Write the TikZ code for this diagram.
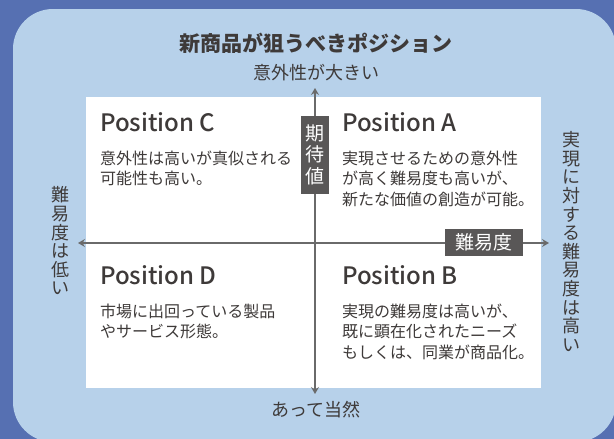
\documentclass[tikz,border=0pt]{standalone}
\usepackage{fontspec}
\setmainfont{Noto Sans CJK JP}
\newfontfamily\posfont{Noto Sans CJK JP Medium}
\usetikzlibrary{arrows.meta}
\definecolor{bgdark}{HTML}{5670B2}
\definecolor{bglight}{HTML}{B7D1EA}
\definecolor{txt}{HTML}{3E3A39}
\definecolor{tagbox}{HTML}{595757}
\definecolor{axis}{HTML}{6A6A6A}
\tikzset{
  lbl/.style={inner sep=0pt, text=txt},
  body/.style={lbl, anchor=west, font=\fontsize{16}{20}\selectfont},
  postitle/.style={lbl, anchor=base west, font=\fontsize{24}{28}\posfont},
  sidelbl/.style={lbl, align=center, font=\fontsize{18}{18.6}\selectfont},
  tag/.style={fill=tagbox, text=white, inner sep=0pt, font=\fontsize{19}{21}\selectfont},
  axisline/.style={draw=axis, line width=2.4pt, -{Stealth[length=7pt,width=8pt,inset=2.5pt]}},
}
\begin{document}
\begin{tikzpicture}[x=1pt,y=-1pt]
\useasboundingbox (0,0) rectangle (614,439);
\begin{scope}
\clip (0,0) rectangle (614,439);
\fill[bgdark] (0,0) rectangle (614,439);
\fill[bglight, rounded corners=40pt] (13,9) rectangle (616,442);
\end{scope}
\fill[white] (86,97) rectangle (541,388);
% title and axis labels
\node[lbl, font=\fontsize{21}{24}\selectfont\bfseries] (title) at (316,43) {新商品が狙うべきポジション};
\node[lbl, font=\fontsize{18}{20}\selectfont] (top) at (316,73) {意外性が大きい};
\node[lbl, font=\fontsize{18}{20}\selectfont] (bottom) at (316,410) {あって当然};
\node[sidelbl] (left) at (61,241) {難\\易\\度\\は\\低\\い};
\node[sidelbl] (right) at (571,241.5) {実\\現\\に\\対\\す\\る\\難\\易\\度\\は\\高\\い};
% axes
\coordinate (vtop) at (315,88);
\coordinate (vbot) at (315,394);
\coordinate (hleft) at (78,243);
\coordinate (hright) at (549,243);
\coordinate (c) at (315,243);
\draw[axisline] (c) -- (vtop);
\draw[axisline] (c) -- (vbot);
\draw[axisline] (c) -- (hleft);
\draw[axisline] (c) -- (hright);
% tags
\node[tag, minimum width=28pt, minimum height=78pt, align=center, font=\fontsize{19}{21.5}\selectfont] (kitai) at (314.5,154.5) {期\\待\\値};
\node[tag, minimum width=78pt, minimum height=27pt] (nanido) at (483.5,242.5) {難易度};
% Position C
\node[postitle] (pc) at (100,131) {Position C};
\node[body] (pc1) at (100,158) {意外性は高いが真似される};
\node[body] (pc2) at (100,178) {可能性も高い。};
% Position A
\node[postitle] (pa) at (342,131) {Position A};
\node[body] (pa1) at (342,158) {実現させるための意外性};
\node[body] (pa2) at (342,178) {が高く難易度も高いが、};
\node[body] (pa3) at (342,199) {新たな価値の創造が可能。};
% Position D
\node[postitle] (pd) at (100,284) {Position D};
\node[body] (pd1) at (100,311) {市場に出回っている製品};
\node[body] (pd2) at (100,331) {やサービス形態。};
% Position B
\node[postitle] (pb) at (342,284) {Position B};
\node[body] (pb1) at (342,311) {実現の難易度は高いが、};
\node[body] (pb2) at (342,331) {既に顕在化されたニーズ};
\node[body] (pb3) at (342,352) {もしくは、同業が商品化。};
\end{tikzpicture}
\end{document}
